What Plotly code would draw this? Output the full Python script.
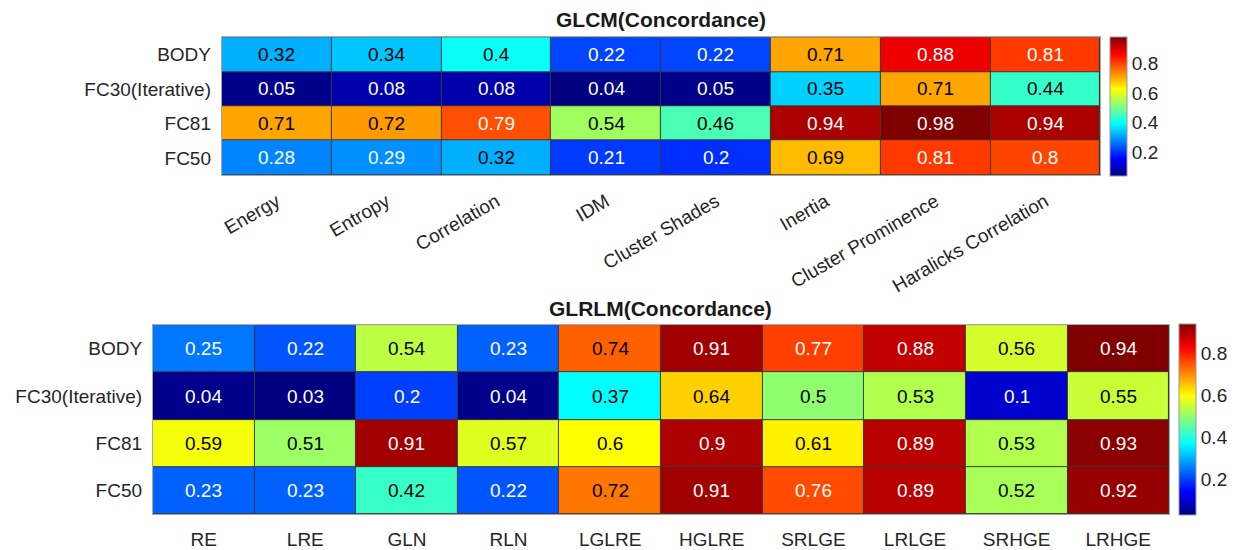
import plotly.graph_objects as go

rows = ["BODY", "FC30(Iterative)", "FC81", "FC50"]

glcm_cols = ["Energy", "Entropy", "Correlation", "IDM", "Cluster Shades",
             "Inertia", "Cluster Prominence", "Haralicks Correlation"]
glcm_body = [0.32, 0.34, 0.4, 0.22, 0.22, 0.71, 0.88, 0.81]
glcm_fc30 = [0.05, 0.08, 0.08, 0.04, 0.05, 0.35, 0.71, 0.44]
glcm_fc81 = [0.71, 0.72, 0.79, 0.54, 0.46, 0.94, 0.98, 0.94]
glcm_fc50 = [0.28, 0.29, 0.32, 0.21, 0.2, 0.69, 0.81, 0.8]

glrlm_cols = ["RE", "LRE", "GLN", "RLN", "LGLRE", "HGLRE", "SRLGE",
              "LRLGE", "SRHGE", "LRHGE"]
glrlm_body = [0.25, 0.22, 0.54, 0.23, 0.74, 0.91, 0.77, 0.88, 0.56, 0.94]
glrlm_fc30 = [0.04, 0.03, 0.2, 0.04, 0.37, 0.64, 0.5, 0.53, 0.1, 0.55]
glrlm_fc81 = [0.59, 0.51, 0.91, 0.57, 0.6, 0.9, 0.61, 0.89, 0.53, 0.93]
glrlm_fc50 = [0.23, 0.23, 0.42, 0.22, 0.72, 0.91, 0.76, 0.89, 0.52, 0.92]

cbar_ticks = [0.2, 0.4, 0.6, 0.8]

jet_stops = [(0.0, (0, 0, 128)), (0.125, (0, 0, 255)), (0.375, (0, 255, 255)),
             (0.625, (255, 255, 0)), (0.875, (255, 0, 0)), (1.0, (128, 0, 0))]
jet = [[s, "rgb(%d,%d,%d)" % c] for s, c in jet_stops]


def jet_rgb(t):
    t = min(max(t, 0.0), 1.0)
    for (s0, c0), (s1, c1) in zip(jet_stops[:-1], jet_stops[1:]):
        if s0 <= t <= s1:
            f = (t - s0) / (s1 - s0)
            return [c0[i] + f * (c1[i] - c0[i]) for i in range(3)]
    return list(jet_stops[-1][1])


def text_color(v, lo, hi):
    r, g, b = jet_rgb((v - lo) / (hi - lo))
    lum = (0.299 * r + 0.587 * g + 0.114 * b) / 255
    return "black" if lum > 0.5 else "white"


FONT = "Liberation Sans, Arial, sans-serif"
TICKC = "#262626"

fig = go.Figure()
annotations = []

panels = [
    dict(cols=glcm_cols, z=[glcm_body, glcm_fc30, glcm_fc81, glcm_fc50],
         xa="x", ya="y", xdom=[221 / 1235, 1100 / 1235],
         ydom=[1 - 176.5 / 550, 1 - 37.5 / 550],
         cbx=1110 / 1235, cblen=139, cby=1 - 107 / 550,
         title="GLCM(Concordance)", ty=1 - 20 / 550, angle=-30),
    dict(cols=glrlm_cols, z=[glrlm_body, glrlm_fc30, glrlm_fc81, glrlm_fc50],
         xa="x2", ya="y2", xdom=[152 / 1235, 1169 / 1235],
         ydom=[1 - 518 / 550, 1 - 327.5 / 550],
         cbx=1179 / 1235, cblen=190.5, cby=1 - 422.75 / 550,
         title="GLRLM(Concordance)", ty=1 - 311 / 550, angle=0),
]

for i, p in enumerate(panels):
    flat = [v for r in p["z"] for v in r]
    lo, hi = min(flat), max(flat)
    fig.add_trace(go.Heatmap(
        z=p["z"], x=p["cols"], y=rows, xaxis=p["xa"], yaxis=p["ya"],
        colorscale=jet, zmin=lo, zmax=hi, xgap=1, ygap=1,
        hoverinfo="skip",
        colorbar=dict(x=p["cbx"], xanchor="left", y=p["cby"], yanchor="middle",
                      len=p["cblen"], lenmode="pixels", thickness=17,
                      xpad=0, ypad=0, outlinewidth=1, outlinecolor="#9a9a9a",
                      tickvals=cbar_ticks, ticktext=[str(t) for t in cbar_ticks],
                      ticks="", ticklabelposition="outside",
                      tickfont=dict(family=FONT, size=19, color=TICKC)),
    ))
    for ri, rname in enumerate(rows):
        for ci, cname in enumerate(p["cols"]):
            v = p["z"][ri][ci]
            annotations.append(dict(
                x=cname, y=rname, xref=p["xa"], yref=p["ya"], text=f"{v:g}",
                showarrow=False,
                font=dict(family=FONT, size=19, color=text_color(v, lo, hi))))
    annotations.append(dict(
        x=(p["xdom"][0] + p["xdom"][1]) / 2, y=p["ty"], xref="paper", yref="paper",
        text="<b>" + p["title"] + "</b>", showarrow=False, yanchor="middle",
        font=dict(family=FONT, size=21, color="#1a1a1a")))
    sfx = "" if i == 0 else "2"
    fig.update_layout(**{
        "xaxis" + sfx: dict(domain=p["xdom"], anchor="y" + sfx, ticks="",
                            tickangle=p["angle"], showgrid=False, zeroline=False,
                            showline=True, linecolor="#a8a8a8", linewidth=1, mirror=True,
                            ticklabelstandoff=7 if i == 0 else 8,
                            tickfont=dict(family=FONT, size=19, color=TICKC)),
        "yaxis" + sfx: dict(domain=p["ydom"], anchor="x" + sfx, ticks="",
                            autorange="reversed", showgrid=False, zeroline=False,
                            showline=True, linecolor="#a8a8a8", linewidth=1, mirror=True,
                            ticklabelstandoff=6,
                            tickfont=dict(family=FONT, size=19, color=TICKC)),
    })

fig.update_layout(
    width=1235, height=550, margin=dict(l=0, r=0, t=0, b=0),
    paper_bgcolor="white", plot_bgcolor="#3a3a3a",
    annotations=annotations, showlegend=False,
)

fig.write_html("out.html")
